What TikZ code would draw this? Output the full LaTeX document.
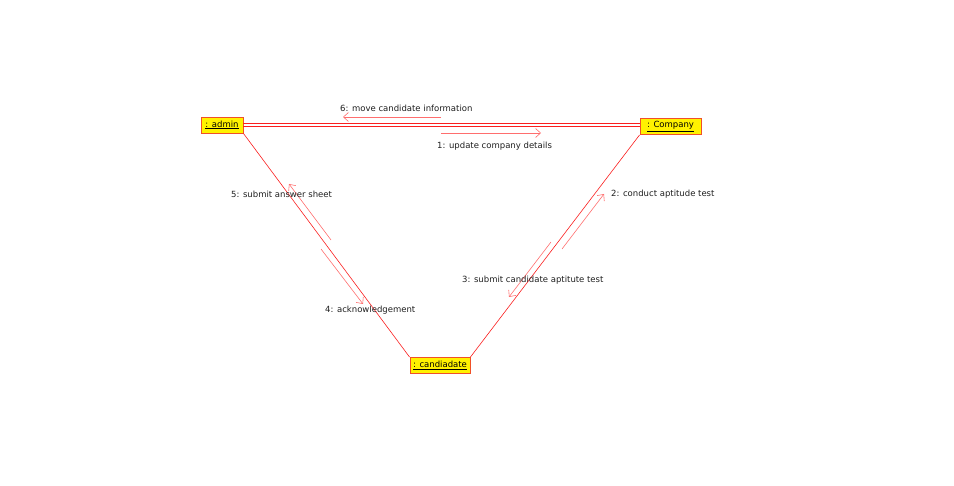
\documentclass[tikz,border=0pt]{standalone}
\usepackage{fontspec}
\setmainfont{DejaVu Sans}
\usepackage{tikz}
\usetikzlibrary{arrows.meta}
\definecolor{linkred}{RGB}{250,30,30}
\definecolor{msgred}{RGB}{255,110,110}
\definecolor{boxred}{RGB}{240,80,40}
\definecolor{textgray}{RGB}{30,30,30}
\tikzset{
    objbox/.style={
        draw=boxred,
        fill=yellow,
        line width=0.9pt,
        inner sep=0pt,
        minimum height=16pt,
        font=\fontsize{8.5}{10}\selectfont
    },
    % association lines between the objects
    assoc/.style={
        line width=0.6pt,
        linkred
    },
    msgarrow/.style={
        line width=0.6pt,
        msgred,
        ->,
        >={Straight Barb[length=5pt, width=9pt]}
    },
    msglabel/.style={
        font=\fontsize{8.5}{10}\selectfont,
        text=textgray,
        inner sep=0pt
    }
}

\begin{document}
\begin{tikzpicture}[x=1pt, y=-1pt]
	\useasboundingbox (0,0) rectangle (954,486);

	\node [objbox, minimum width=42pt] (admin) at (222,125) {\underline{: admin}};
	\node [objbox, minimum width=61pt] (company) at (670.5,126.5) {\underline{: Company}};
	\node [objbox, minimum width=60pt] (cand) at (440,365.5) {\underline{: candiadate}};

	\draw[assoc] ([yshift=-1.5pt]admin.east) -- ([yshift=-1.5pt]admin.east -| company.west);
	\draw[assoc] ([yshift=1.5pt]admin.east) -- ([yshift=1.5pt]admin.east -| company.west);
	\draw[assoc] (admin.south east) -- (cand.north west);
	\draw[assoc] (company.south west) -- (cand.north east);

	\coordinate (m6a) at (441,117);
	\coordinate (m6b) at (343,117);
	\coordinate (m1a) at (441,133);
	\coordinate (m1b) at (541,133);
	\coordinate (m5a) at (331,240);
	\coordinate (m5b) at (289,184);
	\coordinate (m4a) at (321,249);
	\coordinate (m4b) at (363,304);
	\coordinate (m2a) at (562,249);
	\coordinate (m2b) at (604,194);
	\coordinate (m3a) at (551,242);
	\coordinate (m3b) at (509,297);

	\draw[msgarrow] (m6a) -- (m6b);
	\draw[msgarrow] (m1a) -- (m1b);
	\draw[msgarrow] (m5a) -- (m5b);
	\draw[msgarrow] (m4a) -- (m4b);
	\draw[msgarrow] (m2a) -- (m2b);
	\draw[msgarrow] (m3a) -- (m3b);

	\node [msglabel, anchor=west] (l6) at (340,108) {6: move candidate information};
	\node [msglabel, anchor=west] (l1) at (437,146) {1: update company details};
	\node [msglabel, anchor=west] (l5) at (231,194.5) {5: submit answer sheet};
	\node [msglabel, anchor=west] (l4) at (325,310.5) {4: acknowledgement};
	\node [msglabel, anchor=west] (l2) at (611,194.5) {2: conduct aptitude test};
	\node [msglabel, anchor=west] (l3) at (462,280) {3: submit candidate aptitute test};
\end{tikzpicture}
\end{document}
